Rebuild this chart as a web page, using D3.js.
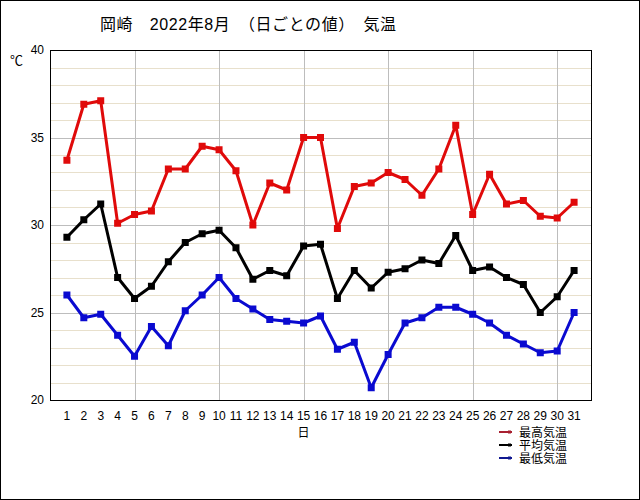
<!DOCTYPE html>
<html>
<head>
<meta charset="utf-8">
<script src="https://cdn.jsdelivr.net/npm/d3@7"></script>
<style>
  body { margin: 0; background: #fff; }
  text { font-family: "Liberation Sans", "Noto Sans CJK JP", sans-serif; }
</style>
</head>
<body>
<script>
// daily values, August 2022 (Okazaki)
var days = d3.range(1, 32);
var maxTemp = [33.7, 36.9, 37.1, 30.1, 30.6, 30.8, 33.2, 33.2, 34.5, 34.3, 33.1, 30.0, 32.4, 32.0, 35.0, 35.0,
               29.8, 32.2, 32.4, 33.0, 32.6, 31.7, 33.2, 35.7, 30.6, 32.9, 31.2, 31.4, 30.5, 30.4, 31.3];
var avgTemp = [29.3, 30.3, 31.2, 27.0, 25.8, 26.5, 27.9, 29.0, 29.5, 29.7, 28.7, 26.9, 27.4, 27.1, 28.8, 28.9,
               25.8, 27.4, 26.4, 27.3, 27.5, 28.0, 27.8, 29.4, 27.4, 27.6, 27.0, 26.6, 25.0, 25.9, 27.4];
var minTemp = [26.0, 24.7, 24.9, 23.7, 22.5, 24.2, 23.1, 25.1, 26.0, 27.0, 25.8, 25.2, 24.6, 24.5, 24.4, 24.8,
               22.9, 23.3, 20.7, 22.6, 24.4, 24.7, 25.3, 25.3, 24.9, 24.4, 23.7, 23.2, 22.7, 22.8, 25.0];
var yTicks = [20, 25, 30, 35, 40];
var seriesNames = ["最高気温", "平均気温", "最低気温"];

var width = 640, height = 500;
var margin = {left: 50, right: 49, top: 50, bottom: 100};
var plotW = width - margin.left - margin.right;
var plotH = height - margin.top - margin.bottom;

var svg = d3.select("body").append("svg")
    .attr("width", width).attr("height", height);

// outer frame
svg.append("rect").attr("x", 0.5).attr("y", 0.5)
    .attr("width", width - 1).attr("height", height - 1)
    .attr("fill", "#fff").attr("stroke", "#000");

var x = d3.scaleLinear().domain([0, 32]).range([0, plotW]);
var y = d3.scaleLinear().domain([20, 40]).range([plotH, 0]);

var g = svg.append("g")
    .attr("transform", "translate(" + margin.left + "," + margin.top + ")");

// minor horizontal grid, every 1 degree
g.append("g").selectAll("line")
    .data(d3.range(21, 40).filter(function(v){ return v % 5 != 0; }))
    .enter().append("line")
    .attr("x1", 0).attr("x2", plotW)
    .attr("y1", function(d){ return Math.round(y(d)) + 0.5; })
    .attr("y2", function(d){ return Math.round(y(d)) + 0.5; })
    .attr("stroke", "#e8e0cc");

// major grid
g.append("g").selectAll("line")
    .data([25, 30, 35])
    .enter().append("line")
    .attr("x1", 0).attr("x2", plotW)
    .attr("y1", function(d){ return Math.round(y(d)) + 0.5; })
    .attr("y2", function(d){ return Math.round(y(d)) + 0.5; })
    .attr("stroke", "#bdbdbd");

g.append("g").selectAll("line")
    .data([5, 10, 15, 20, 25, 30])
    .enter().append("line")
    .attr("x1", function(d){ return Math.round(x(d)) + 0.5; })
    .attr("x2", function(d){ return Math.round(x(d)) + 0.5; })
    .attr("y1", 0).attr("y2", plotH)
    .attr("stroke", "#bdbdbd");

// plot border
g.append("rect").attr("x", 0.5).attr("y", 0.5)
    .attr("width", plotW).attr("height", plotH)
    .attr("fill", "none").attr("stroke", "#000");

// y tick labels
g.append("g").selectAll("text")
    .data(yTicks).enter().append("text")
    .attr("x", -6).attr("y", function(d){ return y(d) + 4; })
    .attr("text-anchor", "end").attr("font-size", 12)
    .text(function(d){ return d; });

svg.append("text").attr("x", 10).attr("y", 65)
    .attr("font-size", 13).attr("font-family", "Noto Sans CJK JP")
    .text("℃");

// x tick labels
g.append("g").selectAll("text")
    .data(days).enter().append("text")
    .attr("x", function(d){ return x(d); })
    .attr("y", plotH + 20)
    .attr("text-anchor", "middle").attr("font-size", 12)
    .text(function(d){ return d; });

g.append("text").attr("x", x(15)).attr("y", plotH + 37)
    .attr("text-anchor", "middle").attr("font-size", 12)
    .attr("font-family", "Noto Sans CJK JP")
    .text("日");

// title
svg.append("text").attr("x", 100).attr("y", 30)
    .attr("font-size", 16).attr("font-family", "Noto Sans CJK JP")
    .attr("textLength", 296).attr("lengthAdjust", "spacing")
    .text("岡崎　2022年8月　（日ごとの値）　気温");

// series
var series = [
    {values: maxTemp, color: "#e00a0a", legend: "#a82030"},
    {values: avgTemp, color: "#000000", legend: "#000000"},
    {values: minTemp, color: "#0a0ad0", legend: "#101890"}
];

var line = d3.line()
    .x(function(d, i){ return x(days[i]); })
    .y(function(d){ return y(d); });

series.forEach(function(s){
    g.append("path").attr("d", line(s.values))
        .attr("fill", "none").attr("stroke", s.color)
        .attr("stroke-width", 3).attr("stroke-linejoin", "round");
    g.append("g").selectAll("rect")
        .data(s.values).enter().append("rect")
        .attr("x", function(d, i){ return x(days[i]) - 3.5; })
        .attr("y", function(d){ return y(d) - 3.5; })
        .attr("width", 7).attr("height", 7)
        .attr("fill", s.color);
});

// legend
var legend = svg.append("g").attr("transform", "translate(499,432)");
series.forEach(function(s, i){
    var row = legend.append("g").attr("transform", "translate(0," + (i * 13) + ")");
    row.append("line").attr("x1", 0).attr("x2", 13).attr("y1", 0).attr("y2", 0)
        .attr("stroke", s.legend).attr("stroke-width", 2);
    row.append("rect").attr("x", 9).attr("y", -1.5).attr("width", 3).attr("height", 3)
        .attr("fill", s.legend);
    row.append("text").attr("x", 20).attr("y", 5)
        .attr("font-size", 12).attr("font-family", "Noto Sans CJK JP")
        .text(seriesNames[i]);
});
</script>
</body>
</html>
